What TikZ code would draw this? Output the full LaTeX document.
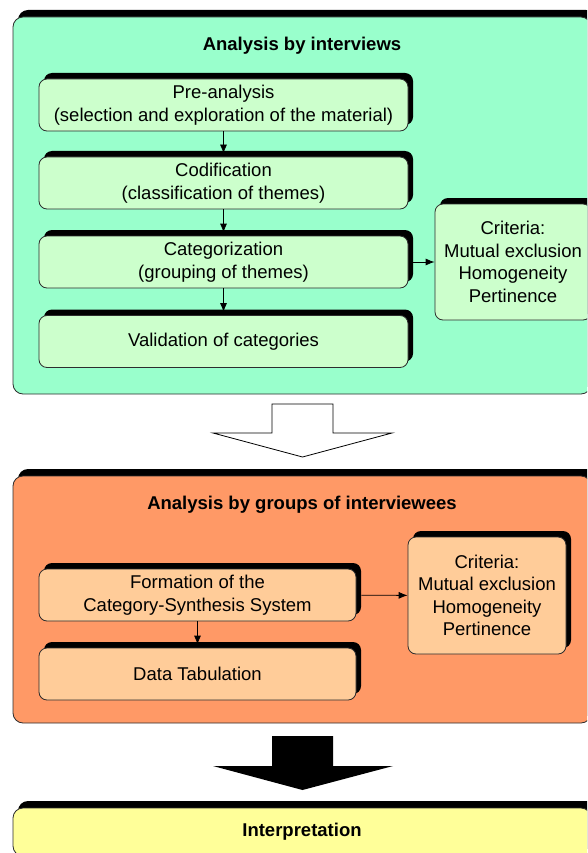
\documentclass[tikz,border=0pt]{standalone}
\usepackage{fontspec}
\setmainfont{Liberation Sans}
\usetikzlibrary{arrows.meta,shapes,shadows}
\definecolor{outgreen}{RGB}{153,255,204}
\definecolor{ingreen}{RGB}{204,255,204}
\definecolor{outorange}{RGB}{255,153,102}
\definecolor{inorange}{RGB}{255,204,153}
\definecolor{inyellow}{RGB}{255,255,153}
\definecolor{edgegray}{RGB}{45,45,45}

\begin{document}
\begin{tikzpicture}[x=1pt, y=-1pt, line join=miter, line width=0.8pt,
    font=\fontsize{18.5}{22.5}\selectfont]

	\tikzstyle{panel}=[draw=edgegray, rounded corners=10pt, inner sep=0pt,
	  drop shadow={shadow xshift=5pt, shadow yshift=7pt, fill=black, opacity=1}]
	\tikzstyle{stepbox}=[draw=edgegray, rounded corners=8pt, inner sep=0pt,
	  align=center, minimum height=52pt,
	  drop shadow={shadow xshift=5pt, shadow yshift=6pt, fill=black, opacity=1}]
	\tikzstyle{heading}=[font=\fontsize{18.5}{22}\selectfont\bfseries]
	\tikzstyle{link}=[-{Latex[length=9pt,width=7pt]}, line width=0.8pt]

    \useasboundingbox (0,0) rectangle (587,853);
    \clip (0,0) rectangle (587,853);

    % analysis by interviews
    \node[panel, fill=outgreen, minimum width=578pt, minimum height=377pt]
      (interviews) at (302,205.5) {};
    \node[heading] (interviewstitle) at (302,46) {Analysis by interviews};

    \node[stepbox, fill=ingreen, minimum width=369pt] (preanalysis) at (223.5,105)
      {Pre-analysis\\(selection and exploration of the material)};
    \node[stepbox, fill=ingreen, minimum width=369pt] (codification) at (223.5,183)
      {Codification\\(classification of themes)};
    \node[stepbox, fill=ingreen, minimum width=369pt] (categorization) at (223.5,262)
      {Categorization\\(grouping of themes)};
    \node[stepbox, fill=ingreen, minimum width=369pt] (validation) at (223.5,341.5)
      {Validation of categories};
    \node[stepbox, fill=ingreen, minimum width=156pt, minimum height=116pt]
      (criteriaone) at (513,262)
      {Criteria:\\Mutual exclusion\\Homogeneity\\Pertinence};

    \draw[link, shorten >=3pt] (preanalysis) -- (codification);
    \draw[link, shorten >=3pt] (codification) -- (categorization);
    \draw[link, shorten >=3pt] (categorization) -- (validation);
    \draw[link, shorten <=5pt] (categorization) -- (criteriaone);

    % hollow arrow
    \draw[fill=white] (272,404) -- (333,404) -- (333,433) -- (392,433)
      -- (302.5,457) -- (213,433) -- (272,433) -- cycle;

    % analysis by groups of interviewees
    \node[panel, fill=outorange, minimum width=578pt, minimum height=247pt]
      (groups) at (302,599.5) {};
    \node[heading] (groupstitle) at (302,505) {Analysis by groups of interviewees};

    \node[stepbox, fill=inorange, minimum width=317pt] (formation) at (197.5,595)
      {Formation of the\\Category-Synthesis System};
    \node[stepbox, fill=inorange, minimum width=317pt] (tabulation) at (197.5,674)
      {Data Tabulation};
    \node[stepbox, fill=inorange, minimum width=158pt, minimum height=117pt]
      (criteriatwo) at (487,595.5)
      {Criteria:\\Mutual exclusion\\Homogeneity\\Pertinence};

    \draw[link, shorten >=3pt] (formation) -- (tabulation);
    \draw[link, shorten <=5pt] (formation) -- (criteriatwo);

    % solid arrow
    \fill (272,736) -- (333,736) -- (333,766) -- (393,766)
      -- (302.5,790) -- (213,766) -- (272,766) -- cycle;

    % interpretation
    \node[panel, heading, fill=inyellow, minimum width=578pt, minimum height=48pt]
      (interpretation) at (302,832) {Interpretation};

\end{tikzpicture}
\end{document}
